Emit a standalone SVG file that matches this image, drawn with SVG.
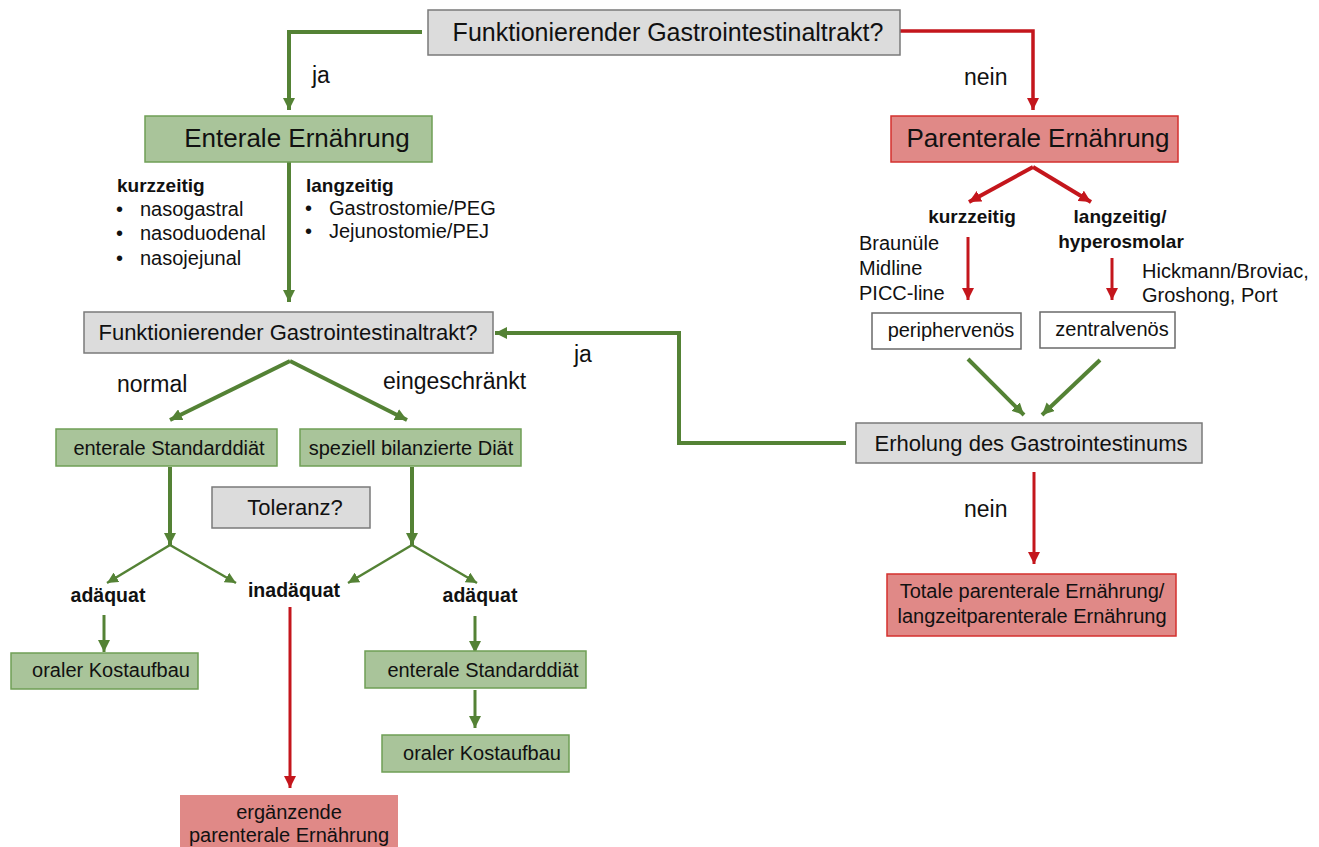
<svg xmlns="http://www.w3.org/2000/svg" width="1319" height="847" viewBox="0 0 1319 847">
<defs>
<style>
text{font-family:"Liberation Sans",Arial,sans-serif;fill:#111;}
.grey{fill:#dcdcdc;stroke:#7a7a7a;stroke-width:1.5;}
.green{fill:#a9c49a;stroke:#6f9f55;stroke-width:1.5;}
.red{fill:#e08987;stroke:#d4302e;stroke-width:1.5;}
.white{fill:#fff;stroke:#6a6a6a;stroke-width:1.5;}
.g{stroke:#548235;fill:none;}
.r{stroke:#c4161c;fill:none;}
.b{font-weight:bold;}
</style>
<marker id="ag" viewBox="0 0 12 12" refX="12" refY="6" markerWidth="12" markerHeight="12" markerUnits="userSpaceOnUse" orient="auto"><path d="M0,0 L12,6 L0,12 z" fill="#548235"/></marker>
<marker id="ags" viewBox="0 0 12 12" refX="12" refY="6" markerWidth="11" markerHeight="11" markerUnits="userSpaceOnUse" orient="auto"><path d="M0,0 L12,6 L0,12 z" fill="#548235"/></marker>
<marker id="ar" viewBox="0 0 12 12" refX="12" refY="6" markerWidth="12" markerHeight="12" markerUnits="userSpaceOnUse" orient="auto"><path d="M0,0 L12,6 L0,12 z" fill="#c4161c"/></marker>
</defs>
<rect width="1319" height="847" fill="#fff"/>

<g id="connectors">
<polyline class="g" stroke-width="4" points="422,32 289,32 289,110" marker-end="url(#ag)"/>
<polyline class="r" stroke-width="3.5" points="900,31 1033,31 1033,110" marker-end="url(#ar)"/>
<line class="g" stroke-width="4" x1="289" y1="162" x2="289" y2="302" marker-end="url(#ag)"/>
<polyline class="g" stroke-width="4" points="846,443 679,443 679,333 495,333" marker-end="url(#ag)"/>
<line class="g" stroke-width="4" x1="290" y1="361" x2="170" y2="420" marker-end="url(#ag)"/>
<line class="g" stroke-width="4" x1="290" y1="361" x2="407" y2="420" marker-end="url(#ag)"/>
<line class="g" stroke-width="4" x1="170" y1="467" x2="170" y2="545" marker-end="url(#ag)"/>
<line class="g" stroke-width="2.5" x1="170" y1="545" x2="107" y2="583" marker-end="url(#ags)"/>
<line class="g" stroke-width="2.5" x1="170" y1="545" x2="236" y2="583" marker-end="url(#ags)"/>
<line class="g" stroke-width="4" x1="412" y1="467" x2="412" y2="545" marker-end="url(#ag)"/>
<line class="g" stroke-width="2.5" x1="412" y1="545" x2="348" y2="583" marker-end="url(#ags)"/>
<line class="g" stroke-width="2.5" x1="412" y1="545" x2="477" y2="583" marker-end="url(#ags)"/>
<line class="g" stroke-width="3" x1="104" y1="615" x2="104" y2="652" marker-end="url(#ag)"/>
<line class="r" stroke-width="3" x1="290" y1="607" x2="290" y2="788" marker-end="url(#ar)"/>
<line class="g" stroke-width="3" x1="475" y1="616" x2="475" y2="653" marker-end="url(#ag)"/>
<line class="g" stroke-width="3" x1="475" y1="690" x2="475" y2="728" marker-end="url(#ag)"/>
<line class="r" stroke-width="4" x1="1033" y1="167" x2="969" y2="202" marker-end="url(#ar)"/>
<line class="r" stroke-width="4" x1="1033" y1="167" x2="1091" y2="202" marker-end="url(#ar)"/>
<line class="r" stroke-width="3" x1="968" y1="237" x2="968" y2="300" marker-end="url(#ar)"/>
<line class="r" stroke-width="3" x1="1112" y1="258" x2="1112" y2="300" marker-end="url(#ar)"/>
<line class="g" stroke-width="4" x1="968" y1="359" x2="1024" y2="415" marker-end="url(#ag)"/>
<line class="g" stroke-width="4" x1="1100" y1="360" x2="1042" y2="415" marker-end="url(#ag)"/>
<line class="r" stroke-width="3" x1="1034" y1="472" x2="1034" y2="564" marker-end="url(#ar)"/>
</g>

<g id="labels">
<text x="312" y="83" font-size="23">ja</text>
<text x="964" y="85" font-size="23">nein</text>
<text x="574" y="362" font-size="23">ja</text>
<text x="117" y="392" font-size="23">normal</text>
<text x="383" y="389" font-size="23">eingeschränkt</text>
<text x="964" y="517" font-size="23">nein</text>
</g>

<g id="top-question">
<rect class="grey" x="428" y="10" width="472" height="45"/>
<text x="668" y="41" font-size="25" text-anchor="middle">Funktionierender Gastrointestinaltrakt?</text>
</g>

<g id="enterale">
<rect class="green" x="145" y="116" width="287" height="46"/>
<text x="297" y="147" font-size="26" text-anchor="middle">Enterale Ernährung</text>
</g>

<g id="enterale-kurz">
<text x="117" y="192" font-size="19" class="b">kurzzeitig</text>
<text font-size="20"><tspan x="116" y="216">•</tspan><tspan x="140" y="216">nasogastral</tspan><tspan x="116" y="240">•</tspan><tspan x="140" y="240">nasoduodenal</tspan><tspan x="116" y="265">•</tspan><tspan x="140" y="265">nasojejunal</tspan></text>
</g>

<g id="enterale-lang">
<text x="306" y="192" font-size="19" class="b">langzeitig</text>
<text font-size="20"><tspan x="305" y="215">•</tspan><tspan x="329" y="215">Gastrostomie/PEG</tspan><tspan x="305" y="238">•</tspan><tspan x="329" y="238">Jejunostomie/PEJ</tspan></text>
</g>

<g id="parenterale">
<rect class="red" x="891" y="116" width="287" height="46"/>
<text x="1038" y="147" font-size="26" text-anchor="middle">Parenterale Ernährung</text>
</g>

<g id="par-kurz">
<text x="972" y="223" font-size="19" class="b" text-anchor="middle">kurzzeitig</text>
<text font-size="20"><tspan x="859" y="250">Braunüle</tspan><tspan x="859" y="275">Midline</tspan><tspan x="859" y="300">PICC-line</tspan></text>
</g>

<g id="par-lang">
<text font-size="19" class="b" text-anchor="middle"><tspan x="1120" y="223">langzeitig/</tspan><tspan x="1121" y="248">hyperosmolar</tspan></text>
<text font-size="20"><tspan x="1142" y="278">Hickmann/Broviac,</tspan><tspan x="1142" y="302">Groshong, Port</tspan></text>
</g>

<g id="periphervenoes">
<rect class="white" x="872" y="313" width="149" height="36"/>
<text x="951" y="337" font-size="20" text-anchor="middle">periphervenös</text>
</g>

<g id="zentralvenoes">
<rect class="white" x="1040" y="312" width="135" height="36"/>
<text x="1112" y="336" font-size="20" text-anchor="middle">zentralvenös</text>
</g>

<g id="erholung">
<rect class="grey" x="856" y="423" width="346" height="40"/>
<text x="1031" y="451" font-size="22" text-anchor="middle">Erholung des Gastrointestinums</text>
</g>

<g id="totale">
<rect class="red" x="887" y="574" width="289" height="62"/>
<text font-size="20" text-anchor="middle"><tspan x="1032" y="598">Totale parenterale Ernährung/</tspan><tspan x="1032" y="623">langzeitparenterale Ernährung</tspan></text>
</g>

<g id="question2">
<rect class="grey" x="84" y="312" width="409" height="41"/>
<text x="288" y="340" font-size="22" text-anchor="middle">Funktionierender Gastrointestinaltrakt?</text>
</g>

<g id="standard1">
<rect class="green" x="56" y="429" width="221" height="37"/>
<text x="169" y="455" font-size="20" text-anchor="middle">enterale Standarddiät</text>
</g>

<g id="speziell">
<rect class="green" x="300" y="429" width="221" height="37"/>
<text x="411" y="455" font-size="20" text-anchor="middle">speziell bilanzierte Diät</text>
</g>

<g id="toleranz">
<rect class="grey" x="212" y="487" width="158" height="41"/>
<text x="295" y="515" font-size="22" text-anchor="middle">Toleranz?</text>
</g>

<g id="adaequat1"><text x="108" y="602" font-size="19.5" class="b" text-anchor="middle">adäquat</text></g>
<g id="inadaequat"><text x="294" y="597" font-size="19.5" class="b" text-anchor="middle">inadäquat</text></g>
<g id="adaequat2"><text x="480" y="602" font-size="19.5" class="b" text-anchor="middle">adäquat</text></g>

<g id="oral1">
<rect class="green" x="11" y="653" width="187" height="36"/>
<text x="111" y="677" font-size="20" text-anchor="middle">oraler Kostaufbau</text>
</g>

<g id="ergaenzende">
<rect class="red" x="180" y="795" width="218" height="70" style="stroke:none"/>
<text font-size="20" text-anchor="middle"><tspan x="289" y="819">ergänzende</tspan><tspan x="289" y="842">parenterale Ernährung</tspan></text>
</g>

<g id="standard2">
<rect class="green" x="365" y="651" width="221" height="37"/>
<text x="483" y="677" font-size="20" text-anchor="middle">enterale Standarddiät</text>
</g>

<g id="oral2">
<rect class="green" x="382" y="735" width="187" height="37"/>
<text x="482" y="760" font-size="20" text-anchor="middle">oraler Kostaufbau</text>
</g>
</svg>
